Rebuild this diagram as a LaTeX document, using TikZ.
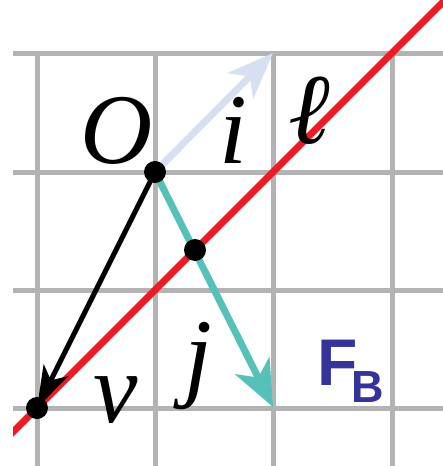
\documentclass[tikz,border=0pt]{standalone}
\usepackage{fontspec}
\setmainfont{Liberation Serif}
\newfontfamily\labfont{Liberation Serif Italic}
\newfontfamily\sansbold{Liberation Sans Bold}
\usetikzlibrary{arrows.meta}
\definecolor{gridgray}{HTML}{B3B3B3}
\definecolor{redl}{HTML}{ED1C24}
\definecolor{tealj}{HTML}{56C1B9}
\definecolor{bluei}{HTML}{D7E0F1}
\definecolor{fbblue}{HTML}{333399}
\tikzset{
  gridline/.style={line width=5pt, gridgray},
  redline/.style={line width=7pt, redl},
  dot/.style={circle, fill=black, minimum size=22pt, inner sep=0pt},
  lab/.style={inner sep=0pt, font=\labfont\fontsize{100}{100}\selectfont},
  fbtext/.style={inner sep=0pt, text=fbblue},
}
\begin{document}
\begin{tikzpicture}[x=1pt,y=-1pt]
\useasboundingbox (0,0) rectangle (443,466);
% grid
\foreach \y in {53,172,290,408} \draw[gridline] (13,\y) -- (443,\y);
\foreach \x in {37,155,273,392} \draw[gridline] (\x,50.5) -- (\x,466);
% points
\coordinate (O) at (155,172);
\coordinate (P) at (195,250);
\coordinate (V) at (37,408);
\coordinate (I) at (273,53);
\coordinate (J) at (273,407);
\coordinate (L1) at (0,445);
\coordinate (L2) at (445,0);
% red line
\begin{scope}
\clip (13,0) rectangle (443,466);
\draw[redline] (L1) -- (L2);
\end{scope}
% arrows
\draw[line width=7pt, bluei, -{Stealth[length=46pt,width=36pt,inset=13pt]}] (O) -- (I);
\draw[line width=7pt, tealj, -{Stealth[length=46pt,width=38pt,inset=13pt]}] (O) -- (J);
\draw[line width=5pt, black, -{Stealth[length=42pt,width=27pt,inset=11pt]}] (O) -- (V);
% dots
\node[dot] (Od) at (O) {};
\node[dot] (Pd) at (P) {};
\node[dot] (Vd) at (V) {};
% labels
\node[lab, anchor=base] (Ol) at (117,163) {O};
\node[lab, anchor=base] (il) at (233,163) {i};
\node[lab, anchor=base] (ll) at (309,143) {ℓ};
\node[lab, anchor=base] (jl) at (198,388) {j};
\node[lab, anchor=base] (vl) at (116,422) {v};
\node[fbtext, anchor=base west, font=\sansbold\fontsize{66}{66}\selectfont] (FB) at (317,385) {F\kern-6pt\raisebox{-17pt}{\fontsize{45}{45}\selectfont B}};
\end{tikzpicture}
\end{document}
